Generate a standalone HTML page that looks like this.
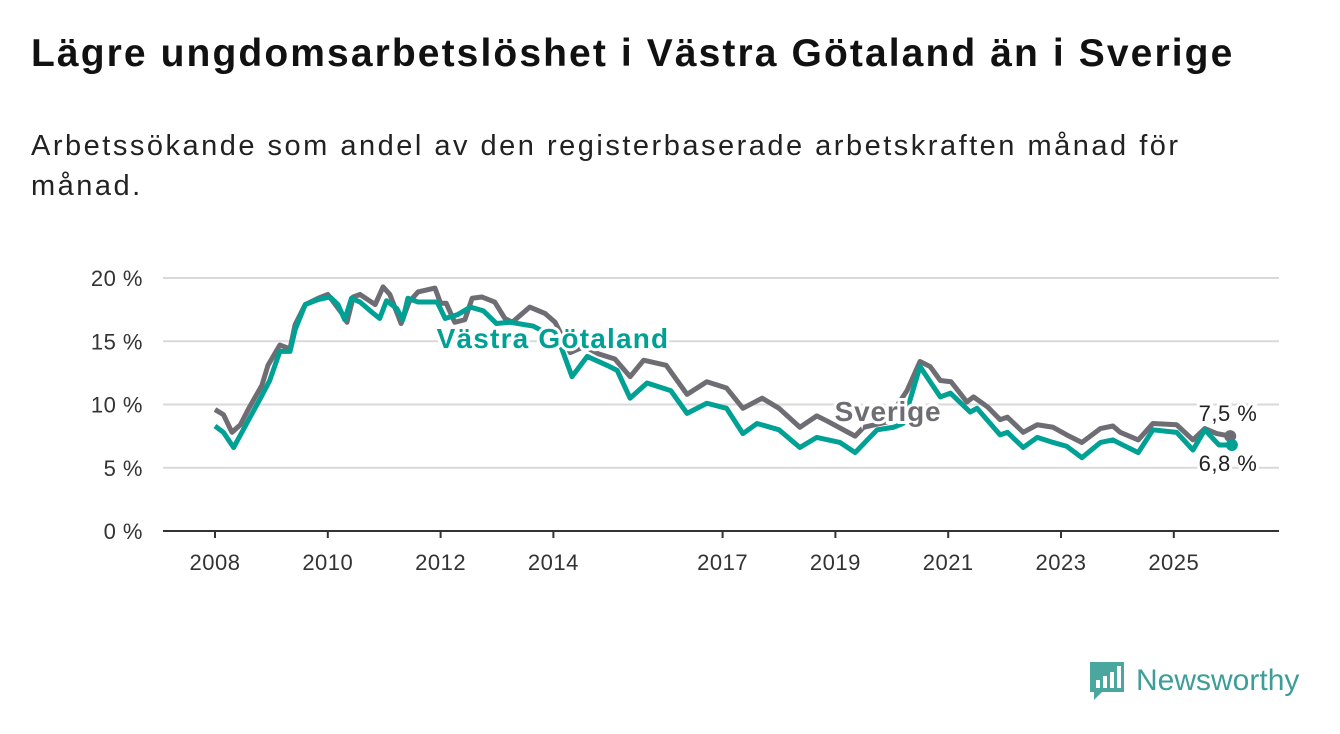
<!DOCTYPE html>
<html><head><meta charset="utf-8"><style>
body{margin:0;background:#fff;width:1340px;height:734px;overflow:hidden;font-family:"Liberation Sans",sans-serif}
h1{position:absolute;left:31px;top:32px;margin:0;font-size:39px;letter-spacing:2.1px;font-weight:bold;color:#111;white-space:nowrap}
p{position:absolute;left:31px;top:126px;margin:0;font-size:29px;letter-spacing:2.5px;line-height:40px;color:#222;width:1200px}
</style></head><body>
<h1>Lägre ungdomsarbetslöshet i Västra Götaland än i Sverige</h1>
<p>Arbetssökande som andel av den registerbaserade arbetskraften månad för månad.</p>
<svg id="chart" width="1340" height="734" style="position:absolute;left:0;top:0"></svg>
<div style="position:absolute;left:1088px;top:660px;display:flex;align-items:center">
<svg width="38" height="42" viewBox="0 0 38 42"><path d="M2 2h34v30H14l-8 8v-8H2z" fill="#4aa7a0"/><rect x="8" y="20" width="4" height="8" fill="#fff"/><rect x="15" y="16" width="4" height="12" fill="#fff"/><rect x="22" y="12" width="4" height="16" fill="#fff"/><rect x="29" y="6" width="4" height="22" fill="#fff"/></svg>
<span style="font-size:30px;color:#3d9e98;margin-left:10px">Newsworthy</span></div>
<script>
const yTicks=[0,5,10,15,20];
const xTicks=[2008,2010,2012,2014,2017,2019,2021,2023,2025];
const sverigeDates=[2008.0,2008.15,2008.3,2008.45,2008.6,2008.83,2008.94,2009.15,2009.33,2009.42,2009.6,2009.83,2010.0,2010.25,2010.34,2010.45,2010.57,2010.84,2010.98,2011.1,2011.3,2011.44,2011.6,2011.9,2012.0,2012.1,2012.25,2012.43,2012.56,2012.73,2012.96,2013.14,2013.27,2013.58,2013.85,2014.03,2014.3,2014.55,2014.8,2015.09,2015.36,2015.6,2016.0,2016.37,2016.72,2017.07,2017.36,2017.7,2018.0,2018.37,2018.67,2018.85,2019.35,2019.5,2019.9,2020.27,2020.5,2020.68,2020.86,2021.05,2021.33,2021.45,2021.7,2021.92,2022.05,2022.33,2022.58,2022.86,2023.1,2023.37,2023.7,2023.92,2024.05,2024.37,2024.63,2025.05,2025.34,2025.55,2025.76,2026.0];
const sverigeValues=[9.6,9.2,7.8,8.4,9.7,11.5,13.1,14.7,14.4,16.3,17.9,18.4,18.7,17.2,16.5,18.5,18.7,17.9,19.3,18.7,16.4,18.1,18.9,19.2,18.0,18.0,16.5,16.7,18.4,18.5,18.1,16.8,16.5,17.7,17.2,16.5,14.1,14.6,14.0,13.6,12.2,13.5,13.1,10.8,11.8,11.3,9.7,10.5,9.7,8.2,9.1,8.7,7.5,8.2,8.6,11.1,13.4,13.0,11.9,11.8,10.2,10.6,9.8,8.8,9.0,7.8,8.4,8.2,7.6,7.0,8.1,8.3,7.8,7.2,8.5,8.4,7.2,8.1,7.7,7.5];
const vgDates=[2008.0,2008.15,2008.33,2008.5,2008.83,2008.97,2009.15,2009.33,2009.42,2009.6,2009.83,2010.04,2010.18,2010.3,2010.42,2010.57,2010.78,2010.92,2011.04,2011.22,2011.33,2011.42,2011.6,2011.94,2012.08,2012.3,2012.53,2012.76,2012.99,2013.23,2013.64,2013.9,2014.1,2014.33,2014.6,2014.95,2015.13,2015.36,2015.66,2016.08,2016.37,2016.72,2017.07,2017.36,2017.61,2018.0,2018.37,2018.67,2019.08,2019.35,2019.74,2020.03,2020.2,2020.5,2020.86,2021.04,2021.39,2021.51,2021.92,2022.05,2022.33,2022.58,2022.86,2023.1,2023.37,2023.7,2023.92,2024.05,2024.37,2024.63,2025.05,2025.34,2025.55,2025.8,2026.03];
const vgValues=[8.3,7.8,6.6,8.0,10.7,11.9,14.2,14.2,15.9,17.9,18.3,18.5,17.9,16.7,18.4,18.1,17.3,16.8,18.2,17.6,16.7,18.4,18.1,18.1,16.8,17.1,17.7,17.4,16.4,16.5,16.2,15.6,15.0,12.2,13.8,13.1,12.7,10.5,11.7,11.1,9.3,10.1,9.7,7.7,8.5,8.0,6.6,7.4,7.0,6.2,8.0,8.2,8.5,13.0,10.6,10.9,9.4,9.7,7.6,7.8,6.6,7.4,7.0,6.7,5.8,7.0,7.2,6.9,6.2,8.0,7.8,6.4,8.0,6.8,6.8];
const svg=document.getElementById('chart');const NS='http://www.w3.org/2000/svg';
const X=y=>215+(y-2008)*56.4, Y=v=>531-v*12.65;
function mk(t,a,p){const e=document.createElementNS(NS,t);for(const k in a)e.setAttribute(k,a[k]);(p||svg).appendChild(e);return e;}
yTicks.forEach(v=>{
 if(v>0){const l=mk('line',{x1:163,x2:1279,y1:Y(v),y2:Y(v),stroke:'#d9d9d9','stroke-width':2});
 
 }
 const t=mk('text',{x:143,y:Y(v)+8,'text-anchor':'end','font-size':22,'letter-spacing':0.5,fill:'#333','font-family':'Liberation Sans,sans-serif'});t.textContent=v+' %';
 
 
});
const ax=mk('line',{x1:163,x2:1279,y1:531,y2:531,stroke:'#333','stroke-width':2});


xTicks.forEach(y=>{mk('line',{x1:X(y),x2:X(y),y1:531,y2:538,stroke:'#333','stroke-width':2});
 const t=mk('text',{x:X(y),y:570,'text-anchor':'middle','font-size':22,'letter-spacing':0.5,fill:'#333','font-family':'Liberation Sans,sans-serif'});t.textContent=y;
 
 });
function line(d,v,c,n){const p=mk('polyline',{points:d.map((x,i)=>X(x)+','+Y(v[i])).join(' '),fill:'none',stroke:c,'stroke-width':5,'stroke-linejoin':'round'});
 
 
 const c2=mk('circle',{cx:X(d[d.length-1]),cy:Y(v[v.length-1]),r:6,fill:c});
 
 }
line(sverigeDates,sverigeValues,'#6e6d73','sverige-line');
line(vgDates,vgValues,'#00a195','vastra-gotaland-line');
function lab(x,y,s,c,n,sz,w,ls){const t=mk('text',{x:x,y:y,'text-anchor':'middle','font-size':sz,'font-weight':w,'letter-spacing':ls,fill:c,stroke:'#fff','stroke-width':6,'paint-order':'stroke','font-family':'Liberation Sans,sans-serif'});t.textContent=s;
 
 }
lab(553,348,'Västra Götaland','#00a195','vastra-gotaland-label',28,'bold',1.2);
lab(888,421,'Sverige','#6e6d73','sverige-label',28,'bold',0.8);
lab(1228,421,'7,5 %','#222','sverige-end-value',22,'normal',0.5);
lab(1228,471,'6,8 %','#222','vastra-gotaland-end-value',22,'normal',0.5);
</script>
</body></html>
